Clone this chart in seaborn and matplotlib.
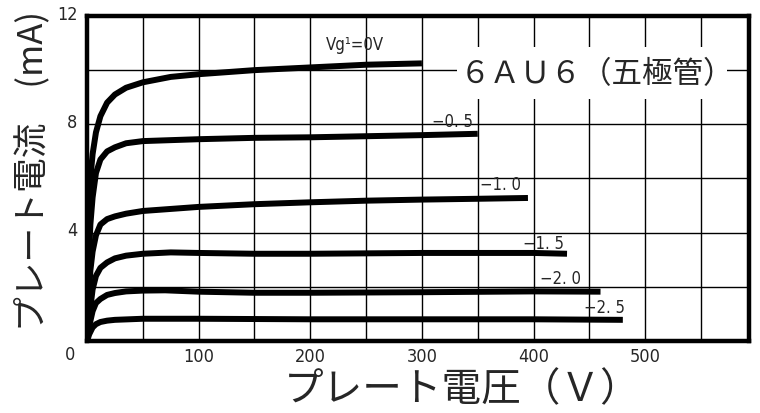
import numpy as np
import pandas as pd
import matplotlib
matplotlib.use("Agg")
import matplotlib.pyplot as plt
import matplotlib.transforms as mtransforms
from matplotlib import font_manager
from matplotlib.patches import Rectangle
import seaborn as sns

# ----------------------------- data ------------------------------------
GRID_LABELS = ["Vg¹=0V", "−0. 5", "−1. 0", "−1. 5", "−2. 0", "−2. 5"]

v_g0 = [0, 1, 2, 3, 5, 8, 12, 18, 25, 35, 50, 75, 100, 150, 200, 250, 300]
i_g0 = [0, 2.5, 4.8, 6.0, 6.9, 7.7, 8.3, 8.8, 9.1, 9.35, 9.55, 9.75, 9.85, 10.0, 10.1, 10.2, 10.25]

v_g05 = [0, 1, 2, 3, 5, 8, 12, 18, 25, 35, 50, 100, 150, 200, 250, 300, 350]
i_g05 = [0, 1.8, 3.3, 4.3, 5.3, 6.2, 6.7, 7.0, 7.15, 7.3, 7.38, 7.45, 7.5, 7.52, 7.56, 7.6, 7.65]

v_g10 = [0, 1, 2, 3, 5, 8, 12, 18, 25, 35, 50, 100, 150, 200, 250, 300, 350, 395]
i_g10 = [0, 1.0, 1.9, 2.6, 3.3, 3.9, 4.3, 4.5, 4.6, 4.7, 4.8, 4.95, 5.05, 5.12, 5.18, 5.22, 5.25, 5.28]

v_g15 = [0, 2, 5, 8, 12, 18, 25, 35, 50, 75, 100, 150, 200, 300, 400, 430]
i_g15 = [0, 0.9, 1.9, 2.4, 2.7, 2.9, 3.05, 3.15, 3.22, 3.27, 3.25, 3.22, 3.22, 3.25, 3.25, 3.22]

v_g20 = [0, 2, 5, 8, 12, 18, 25, 35, 50, 70, 100, 150, 200, 300, 400, 460]
i_g20 = [0, 0.55, 1.1, 1.4, 1.55, 1.7, 1.77, 1.83, 1.86, 1.87, 1.82, 1.78, 1.78, 1.8, 1.83, 1.82]

v_g25 = [0, 2, 5, 8, 12, 18, 25, 50, 100, 200, 300, 400, 480]
i_g25 = [0, 0.25, 0.5, 0.62, 0.7, 0.75, 0.78, 0.82, 0.82, 0.8, 0.8, 0.8, 0.78]

# label anchor (V, mA) for each curve
label_x = [214, 309, 352, 391, 406, 445]
label_y = [10.97, 8.12, 5.8, 3.62, 2.33, 1.26]

X_TICKS = [100, 200, 300, 400, 500]
Y_TICKS = [4, 8, 12]

TITLE = "６ＡＵ６（五極管）"
XLABEL = "プレート電圧（Ｖ）"
YLABEL = "プレート電流　(mA)"

# ----------------------------- fonts -----------------------------------
def _narrow_font():
    fl = font_manager.fontManager.ttflist
    for f in fl:
        if f.name == "Liberation Sans Narrow" and f.weight in (400, "normal", "regular") and f.style == "normal":
            return font_manager.FontProperties(fname=f.fname)
    for f in fl:
        if f.name == "DejaVu Sans" and "Condensed" in f.fname and "Bold" not in f.fname and "Oblique" not in f.fname:
            return font_manager.FontProperties(fname=f.fname)
    for f in fl:
        if ("Condensed" in f.name or "Narrow" in f.name) and f.style == "normal":
            return font_manager.FontProperties(fname=f.fname)
    return font_manager.FontProperties(family="DejaVu Sans")

CJK_FONT = ["Noto Sans CJK JP", "DejaVu Sans"]
sns.set_style("white")
plt.rcParams["font.family"] = CJK_FONT
NUM_FP = _narrow_font()

def num_font(size):
    fp = NUM_FP.copy()
    fp.set_size(size)
    return fp

# ----------------------------- frame -----------------------------------
series = [(v_g0, i_g0), (v_g05, i_g05), (v_g10, i_g10),
          (v_g15, i_g15), (v_g20, i_g20), (v_g25, i_g25)]
rows = []
for lab, (vs, cs) in zip(GRID_LABELS, series):
    for v, c in zip(vs, cs):
        rows.append({"curve": lab, "V": v, "I": c})
df = pd.DataFrame(rows)

fig = plt.figure(figsize=(7.6, 4.14), dpi=100)
ax = fig.add_axes([0.1145, 0.174, 0.871, 0.785])

sns.lineplot(data=df, x="V", y="I", hue="curve", units="curve", estimator=None,
             palette=["black"] * len(GRID_LABELS), linewidth=4.3, legend=False,
             sort=False, ax=ax, solid_capstyle="butt", zorder=3)

ax.set_xlim(0, 593)
ax.set_ylim(0, 12)
ax.set_xticks(np.arange(0, 593, 50))
ax.set_yticks(np.arange(0, 12.1, 2))
ax.grid(True, color="black", linewidth=1.0, zorder=1)
ax.set_axisbelow(True)
for s in ax.spines.values():
    s.set_visible(True)
    s.set_color("black")
    s.set_linewidth(3.2)
ax.tick_params(length=0)

xlabels = [str(int(t)) if (t in X_TICKS) else "" for t in ax.get_xticks()]
ax.set_xticklabels(xlabels, fontproperties=num_font(13))
ylabels = [str(int(t)) if (t in Y_TICKS) else "" for t in ax.get_yticks()]
ax.set_yticklabels(ylabels, fontproperties=num_font(13))
ax.tick_params(axis="x", pad=4)
ax.tick_params(axis="y", pad=7)
off = mtransforms.ScaledTranslation(0, 3 / 72, fig.dpi_scale_trans)
for lbl in ax.get_yticklabels():
    lbl.set_transform(lbl.get_transform() + off)

ax.text(-0.018, -0.04, "0", transform=ax.transAxes, ha="right", va="center",
        fontproperties=num_font(13))

for lab, lx, ly in zip(GRID_LABELS, label_x, label_y):
    ax.text(lx, ly, lab, ha="left", va="center", fontproperties=num_font(12),
            zorder=4)

# white panel behind the title, breaking the grid
ax.add_patch(Rectangle((0.559, 0.745), 0.408, 0.16, transform=ax.transAxes,
                       facecolor="white", edgecolor="none", zorder=2))
ax.text(0.5634, 0.8215, TITLE, transform=ax.transAxes, ha="left", va="center",
        fontsize=22, zorder=5)

ax.set_xlabel(XLABEL, fontsize=28.5)
ax.xaxis.set_label_coords(0.567, -0.088)
ax.set_ylabel(YLABEL, fontsize=25)
ax.yaxis.set_label_coords(-0.056, 0.525)

fig.savefig("out.png", dpi=100)
